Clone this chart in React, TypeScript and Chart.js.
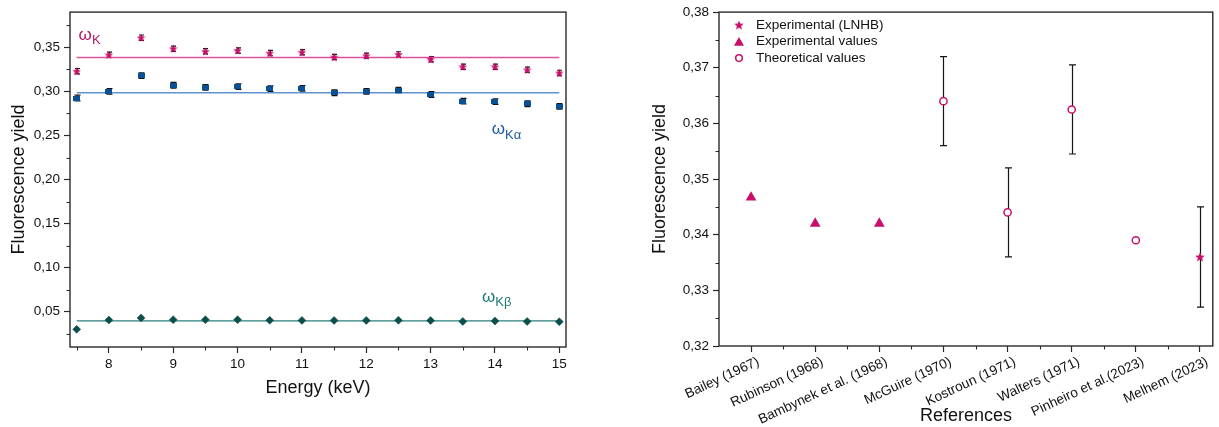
import React, { useEffect, useRef } from 'react';
import { Chart, registerables } from 'chart.js';

Chart.register(...registerables);

const FONT = '"Liberation Sans", Arial, sans-serif';

// ---------- Left panel data ----------
const energies = [7.5, 8, 8.5, 9, 9.5, 10, 10.5, 11, 11.5, 12, 12.5, 13, 13.5, 14, 14.5, 15];
const omegaK = [0.323, 0.3415, 0.361, 0.3485, 0.3455, 0.3465, 0.3435, 0.3445, 0.339, 0.3405, 0.342, 0.3365, 0.328, 0.328, 0.3245, 0.321];
const omegaKErr = [0.003, 0.003, 0.003, 0.003, 0.003, 0.003, 0.003, 0.003, 0.003, 0.003, 0.003, 0.003, 0.003, 0.003, 0.003, 0.003];
const omegaKa = [0.2925, 0.3, 0.318, 0.307, 0.3045, 0.3055, 0.303, 0.3035, 0.2985, 0.3, 0.3015, 0.2965, 0.289, 0.2885, 0.286, 0.283];
const omegaKaErr = [0.0032, 0.0032, 0.0032, 0.0032, 0.0032, 0.0032, 0.0032, 0.0032, 0.0032, 0.0032, 0.0032, 0.0032, 0.0032, 0.0032, 0.0032, 0.0032];
const omegaKb = [0.03, 0.0405, 0.043, 0.041, 0.041, 0.041, 0.0403, 0.0402, 0.0402, 0.0402, 0.0403, 0.04, 0.039, 0.0395, 0.039, 0.0386];
const meanK = 0.3385;
const meanKa = 0.2985;
const meanKb = 0.0396;
const leftXTicks = [8, 9, 10, 11, 12, 13, 14, 15];
const leftXMinor = [7.5, 8.5, 9.5, 10.5, 11.5, 12.5, 13.5, 14.5];
const leftYTicks = [0.05, 0.1, 0.15, 0.2, 0.25, 0.3, 0.35];
const leftYMinor = [0.025, 0.075, 0.125, 0.175, 0.225, 0.275, 0.325, 0.375];
const seriesLabels = [
  { main: 'ω', sub: 'K', x: 7.53, y: 0.3588, color: '#B81565' },
  { main: 'ω', sub: 'Kα', x: 13.95, y: 0.2513, color: '#1A5A9E' },
  { main: 'ω', sub: 'Kβ', x: 13.8, y: 0.0614, color: '#1F7A76' },
];

// ---------- Right panel data ----------
const references = [
  'Bailey (1967)',
  'Rubinson (1968)',
  'Bambynek et al. (1968)',
  'McGuire (1970)',
  'Kostroun (1971)',
  'Walters (1971)',
  'Pinheiro et al.(2023)',
  'Melhem (2023)',
];
const refValues = [0.3467, 0.342, 0.342, 0.364, 0.344, 0.3625, 0.339, 0.336];
const refErrors = [0, 0, 0, 0.008, 0.008, 0.008, 0, 0.009];
const refKinds = ['exp', 'exp', 'exp', 'theo', 'theo', 'theo', 'theo', 'lnhb'];
const rightYTicks = [0.32, 0.33, 0.34, 0.35, 0.36, 0.37, 0.38];
const rightYMinor = [0.325, 0.335, 0.345, 0.355, 0.365, 0.375];
const rightXMinor = [1.5, 2.5, 3.5, 4.5, 5.5, 6.5, 7.5];
const legendItems = [
  { kind: 'lnhb', text: 'Experimental (LNHB)' },
  { kind: 'exp', text: 'Experimental values' },
  { kind: 'theo', text: 'Theoretical values' },
];

// ---------- Styles ----------
const MAGENTA = '#C8106A';
const K_LINE = '#D9529A';
const BLUE = '#0B4F95';
const BLUE_LINE = '#6092CC';
const TEAL = '#0A4F4C';
const TEAL_LINE = '#2B7F7E';
const AXIS = '#2a2a2a';

function starPath(ctx: CanvasRenderingContext2D, cx: number, cy: number, R: number, r: number) {
  ctx.beginPath();
  for (let i = 0; i < 10; i++) {
    const a = -Math.PI / 2 + (i * Math.PI) / 5;
    const rad = i % 2 === 0 ? R : r;
    const x = cx + rad * Math.cos(a);
    const y = cy + rad * Math.sin(a);
    if (i === 0) ctx.moveTo(x, y);
    else ctx.lineTo(x, y);
  }
  ctx.closePath();
}

function makeStar(size: number, color: string) {
  const c = document.createElement('canvas');
  c.width = size;
  c.height = size;
  const ctx = c.getContext('2d')!;
  starPath(ctx, size / 2, size / 2 + 0.4, size / 2, size * 0.22);
  ctx.fillStyle = color;
  ctx.fill();
  return c;
}

function makeRect(w: number, h: number, color: string) {
  const c = document.createElement('canvas');
  c.width = w;
  c.height = h;
  const ctx = c.getContext('2d')!;
  ctx.fillStyle = color;
  ctx.fillRect(0, 0, w, h);
  return c;
}

const errorBarPlugin = {
  id: 'errorBars',
  beforeDatasetsDraw(chart: any) {
    const { ctx } = chart;
    const xs = chart.scales.x;
    const ys = chart.scales.y;
    chart.data.datasets.forEach((ds: any) => {
      const errs = ds.errors;
      if (!errs) return;
      ds.data.forEach((p: any, i: number) => {
        const e = errs[i];
        if (!e) return;
        const px = Math.round(xs.getPixelForValue(p.x)) + 0.5;
        const top = ys.getPixelForValue(p.y + e);
        const bot = ys.getPixelForValue(p.y - e);
        const cw = ds.capWidth || 3;
        ctx.save();
        ctx.strokeStyle = '#151515';
        ctx.lineWidth = ds.errorWidth || 1.2;
        ctx.beginPath();
        ctx.moveTo(px, top);
        ctx.lineTo(px, bot);
        ctx.moveTo(px - cw, top);
        ctx.lineTo(px + cw, top);
        ctx.moveTo(px - cw, bot);
        ctx.lineTo(px + cw, bot);
        ctx.stroke();
        ctx.restore();
      });
    });
  },
};

function framePlugin(xMinor: number[], yMinor: number[]) {
  return {
    id: 'frameMinor',
    afterDraw(chart: any) {
      const { ctx, chartArea } = chart;
      const xs = chart.scales.x;
      const ys = chart.scales.y;
      ctx.save();
      ctx.strokeStyle = AXIS;
      ctx.lineWidth = 1.4;
      ctx.strokeRect(chartArea.left, chartArea.top, chartArea.right - chartArea.left, chartArea.bottom - chartArea.top);
      ctx.lineWidth = 1.1;
      ctx.beginPath();
      xMinor.forEach((v) => {
        const px = Math.round(xs.getPixelForValue(v)) + 0.5;
        ctx.moveTo(px, chartArea.bottom);
        ctx.lineTo(px, chartArea.bottom + 3.5);
      });
      yMinor.forEach((v) => {
        const py = Math.round(ys.getPixelForValue(v)) + 0.5;
        ctx.moveTo(chartArea.left, py);
        ctx.lineTo(chartArea.left - 3.5, py);
      });
      ctx.stroke();
      ctx.restore();
    },
  };
}

const seriesLabelPlugin = {
  id: 'seriesLabels',
  afterDatasetsDraw(chart: any) {
    const { ctx } = chart;
    const xs = chart.scales.x;
    const ys = chart.scales.y;
    seriesLabels.forEach((l) => {
      const px = xs.getPixelForValue(l.x);
      const py = ys.getPixelForValue(l.y);
      ctx.save();
      ctx.fillStyle = l.color;
      ctx.textBaseline = 'alphabetic';
      ctx.textAlign = 'left';
      ctx.font = `17px ${FONT}`;
      ctx.fillText(l.main, px, py);
      const w = ctx.measureText(l.main).width;
      ctx.font = `13px ${FONT}`;
      ctx.fillText(l.sub, px + w, py + 4.5);
      ctx.restore();
    });
  },
};

function drawMarker(ctx: CanvasRenderingContext2D, kind: string, x: number, y: number, star: HTMLCanvasElement) {
  ctx.save();
  if (kind === 'lnhb') {
    ctx.drawImage(star, x - star.width / 2, y - star.height / 2);
  } else if (kind === 'exp') {
    const r = 5.8;
    ctx.beginPath();
    let a = 0;
    ctx.moveTo(x + Math.sin(a) * r, y - Math.cos(a) * r);
    a += (2 * Math.PI) / 3;
    ctx.lineTo(x + Math.sin(a) * r, y - Math.cos(a) * r);
    a += (2 * Math.PI) / 3;
    ctx.lineTo(x + Math.sin(a) * r, y - Math.cos(a) * r);
    ctx.closePath();
    ctx.fillStyle = MAGENTA;
    ctx.fill();
  } else {
    ctx.beginPath();
    ctx.arc(x, y, 3.3, 0, Math.PI * 2);
    ctx.fillStyle = '#fff';
    ctx.fill();
    ctx.strokeStyle = MAGENTA;
    ctx.lineWidth = 1.5;
    ctx.stroke();
  }
  ctx.restore();
}

function legendPlugin(star: HTMLCanvasElement) {
  return {
    id: 'customLegend',
    afterDraw(chart: any) {
      const { ctx, chartArea } = chart;
      legendItems.forEach((it, i) => {
        const y = chartArea.top + 13 + i * 16.5;
        drawMarker(ctx, it.kind, chartArea.left + 20, y + (it.kind === 'exp' ? 1.2 : 0), star);
        ctx.save();
        ctx.fillStyle = '#111';
        ctx.font = `13.5px ${FONT}`;
        ctx.textBaseline = 'middle';
        ctx.textAlign = 'left';
        ctx.fillText(it.text, chartArea.left + 37, y);
        ctx.restore();
      });
    },
  };
}

const refLabelPlugin = {
  id: 'refLabels',
  afterDraw(chart: any) {
    const { ctx, chartArea } = chart;
    const xs = chart.scales.x;
    references.forEach((label, i) => {
      const px = xs.getPixelForValue(i + 1);
      ctx.save();
      ctx.translate(px + 4.5, chartArea.bottom + 9);
      ctx.rotate((-25 * Math.PI) / 180);
      ctx.fillStyle = '#111';
      ctx.font = `13.6px ${FONT}`;
      ctx.textAlign = 'right';
      ctx.textBaseline = 'top';
      ctx.fillText(label, 0, 0);
      ctx.restore();
    });
  },
};

const fmt = (v: number) => v.toFixed(2).replace('.', ',');

function axisCommon() {
  return {
    grid: { display: true, drawOnChartArea: false, drawTicks: true, tickLength: 6, tickColor: AXIS, tickWidth: 1.2 },
    border: { display: false },
  };
}

export default function App() {
  const leftRef = useRef<HTMLCanvasElement>(null);
  const rightRef = useRef<HTMLCanvasElement>(null);

  useEffect(() => {
    const starLeft = makeStar(9, MAGENTA);
    const starRight = makeStar(10, MAGENTA);
    const rectBlue = makeRect(7, 5, BLUE);
    const pts = (ys: number[]) => energies.map((e, i) => ({ x: e, y: ys[i] }));
    const meanLine = (v: number) => [
      { x: energies[0], y: v },
      { x: energies[energies.length - 1], y: v },
    ];

    const left = new Chart(leftRef.current!, {
      type: 'scatter',
      data: {
        datasets: [
          { data: pts(omegaK), pointStyle: starLeft as any, pointRadius: 5, errors: omegaKErr, capWidth: 2.5, order: 1 } as any,
          { data: pts(omegaKa), pointStyle: rectBlue as any, pointRadius: 4, errors: omegaKaErr, capWidth: 3, order: 1 } as any,
          { data: pts(omegaKb), pointStyle: 'rectRot', pointRadius: 4, backgroundColor: TEAL, borderColor: TEAL, pointBorderWidth: 0.5, order: 1 } as any,
          { data: meanLine(meanK), showLine: true, borderColor: K_LINE, borderWidth: 1.3, pointRadius: 0, order: 2 } as any,
          { data: meanLine(meanKa), showLine: true, borderColor: BLUE_LINE, borderWidth: 1.3, pointRadius: 0, order: 2 } as any,
          { data: meanLine(meanKb), showLine: true, borderColor: TEAL_LINE, borderWidth: 1.3, pointRadius: 0, order: 2 } as any,
        ],
      },
      options: {
        animation: false,
        responsive: false,
        events: [],
        layout: { padding: { top: 6, right: 34, left: 0, bottom: 0 } },
        plugins: { legend: { display: false }, tooltip: { enabled: false } },
        scales: {
          x: {
            type: 'linear',
            min: 7.396,
            max: 15.104,
            afterBuildTicks: (s: any) => {
              s.ticks = leftXTicks.map((v) => ({ value: v }));
            },
            afterFit: (s: any) => {
              s.height = 80;
            },
            ticks: { callback: (v: any) => String(v), font: { family: FONT, size: 13.5 }, color: '#111', padding: 3, maxRotation: 0, autoSkip: false },
            title: { display: true, text: 'Energy (keV)', font: { family: FONT, size: 18 }, color: '#111', padding: { top: 0, bottom: 28 } },
            ...axisCommon(),
          },
          y: {
            type: 'linear',
            min: 0.01,
            max: 0.39,
            afterBuildTicks: (s: any) => {
              s.ticks = leftYTicks.map((v) => ({ value: v }));
            },
            afterFit: (s: any) => {
              s.width = 70;
            },
            ticks: { callback: (v: any) => fmt(Number(v)), font: { family: FONT, size: 13.5 }, color: '#111', padding: 4, autoSkip: false },
            title: { display: true, text: 'Fluorescence yield', font: { family: FONT, size: 18 }, color: '#111', padding: { top: 8, bottom: 0 } },
            ...axisCommon(),
          },
        },
      } as any,
      plugins: [errorBarPlugin, framePlugin(leftXMinor, leftYMinor), seriesLabelPlugin],
    });

    const byKind = (kind: string) => {
      const data: any[] = [];
      const errs: number[] = [];
      refValues.forEach((v, i) => {
        if (refKinds[i] === kind) {
          data.push({ x: i + 1, y: v });
          errs.push(refErrors[i]);
        }
      });
      return { data, errs };
    };
    const exp = byKind('exp');
    const theo = byKind('theo');
    const lnhb = byKind('lnhb');

    const right = new Chart(rightRef.current!, {
      type: 'scatter',
      data: {
        datasets: [
          { data: exp.data, errors: exp.errs, capWidth: 3.5, pointStyle: 'triangle', pointRadius: 6.2, backgroundColor: MAGENTA, borderColor: MAGENTA, pointBorderWidth: 0 } as any,
          {
            data: theo.data, errors: theo.errs, capWidth: 3.5, pointStyle: 'circle', pointRadius: 3.6,
            backgroundColor: '#ffffff', borderColor: MAGENTA, pointBorderWidth: 1.5,
          } as any,
          { data: lnhb.data, errors: lnhb.errs, capWidth: 3.5, pointStyle: starRight as any, pointRadius: 5 } as any,
        ],
      },
      options: {
        animation: false,
        responsive: false,
        events: [],
        layout: { padding: { top: 6, right: 4, left: 0, bottom: 0 } },
        plugins: { legend: { display: false }, tooltip: { enabled: false } },
        scales: {
          x: {
            type: 'linear',
            min: 0.5,
            max: 8.2,
            afterBuildTicks: (s: any) => {
              s.ticks = references.map((_, i) => ({ value: i + 1 }));
            },
            afterFit: (s: any) => {
              s.height = 81;
            },
            ticks: { display: false },
            title: { display: true, text: 'References', font: { family: FONT, size: 18 }, color: '#111', padding: { top: 0, bottom: 0 } },
            ...axisCommon(),
          },
          y: {
            type: 'linear',
            min: 0.32,
            max: 0.38,
            afterBuildTicks: (s: any) => {
              s.ticks = rightYTicks.map((v) => ({ value: v }));
            },
            afterFit: (s: any) => {
              s.width = 109;
            },
            ticks: { callback: (v: any) => fmt(Number(v)), font: { family: FONT, size: 13.5 }, color: '#111', padding: 4, autoSkip: false },
            title: { display: true, text: 'Fluorescence yield', font: { family: FONT, size: 18 }, color: '#111', padding: { top: 39, bottom: 0 } },
            ...axisCommon(),
          },
        },
      } as any,
      plugins: [errorBarPlugin, framePlugin(rightXMinor, rightYMinor), legendPlugin(starRight), refLabelPlugin],
    });

    return () => {
      left.destroy();
      right.destroy();
    };
  }, []);

  return (
    <div style={{ position: 'fixed', left: 0, top: 0, width: 1219, height: 427, background: '#fff' }}>
      <canvas ref={leftRef} width={600} height={427} style={{ position: 'absolute', left: 0, top: 0, width: 600, height: 427 }} />
      <canvas ref={rightRef} width={609} height={427} style={{ position: 'absolute', left: 610, top: 0, width: 609, height: 427 }} />
    </div>
  );
}
